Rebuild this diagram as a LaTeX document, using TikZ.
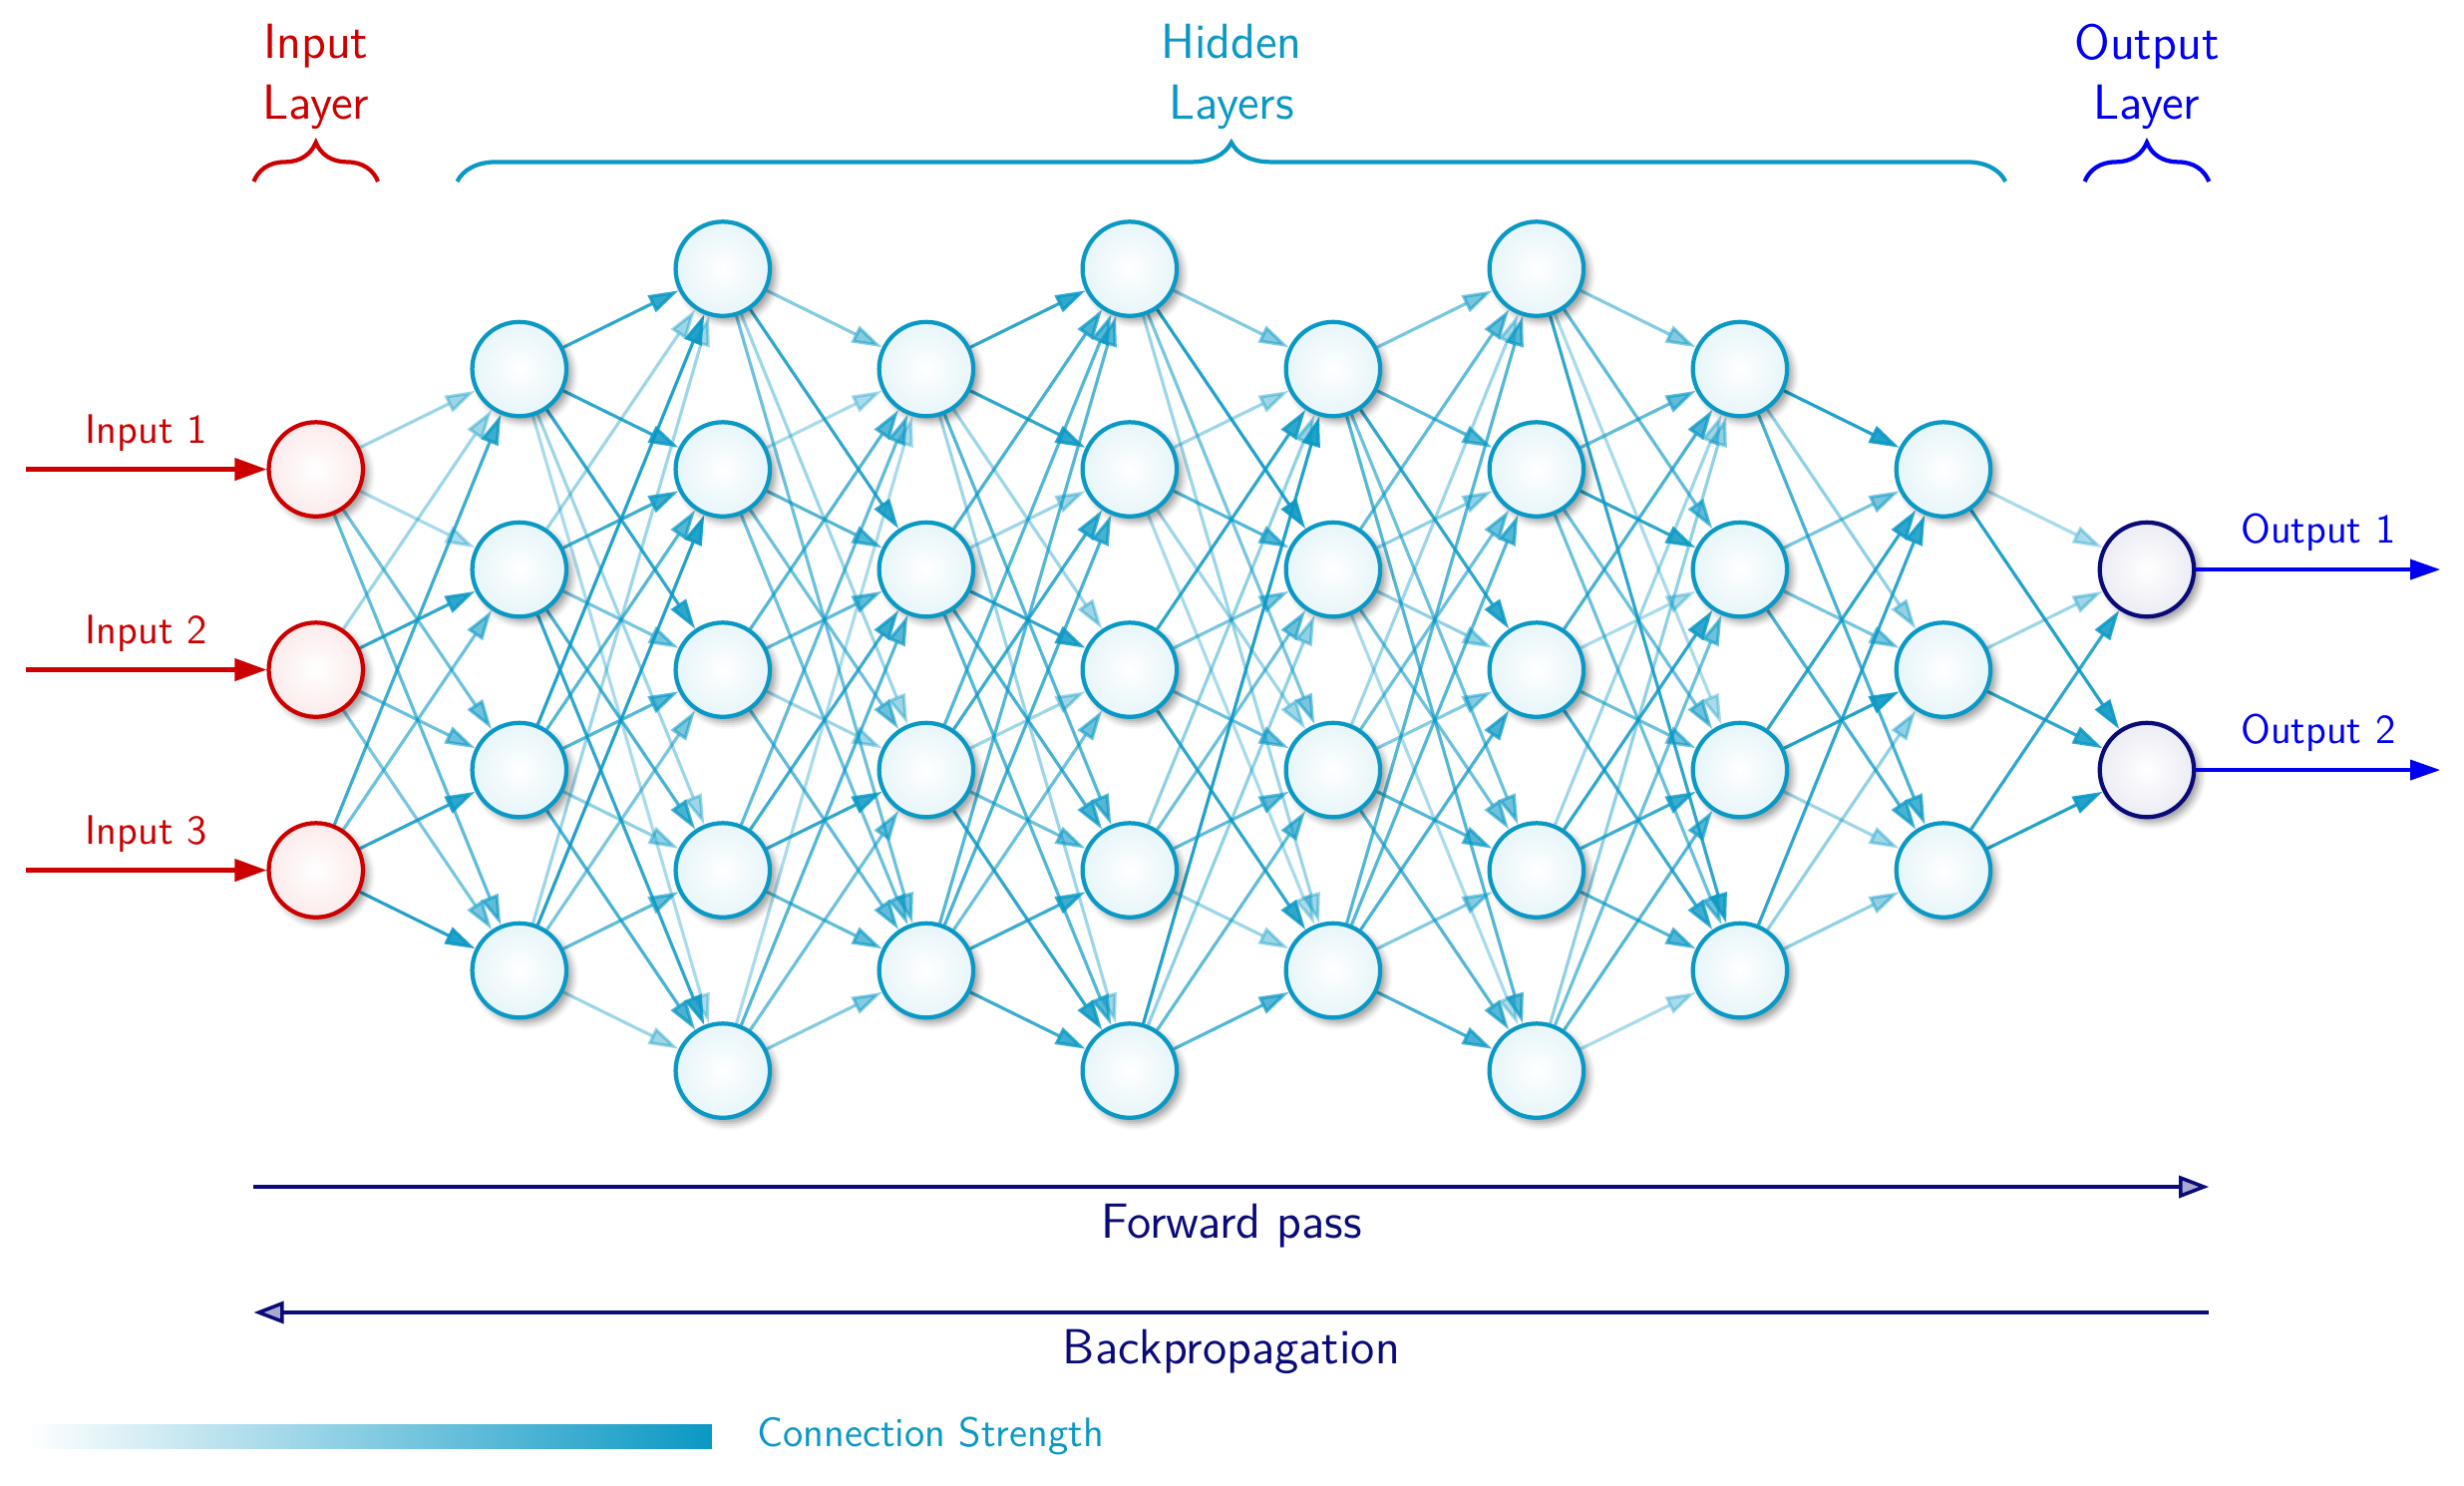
\documentclass[tikz,border=0pt]{standalone}
\usepackage{fontspec}
\usetikzlibrary{arrows.meta,decorations.pathreplacing,shadows,shadows.blur,backgrounds,calc}
\definecolor{hcol}{RGB}{10,152,196}
\definecolor{icol}{RGB}{204,0,0}
\definecolor{ocol}{RGB}{0,0,240}
\definecolor{navycol}{RGB}{10,10,120}
\begin{document}
\begin{tikzpicture}[
  font=\sffamily,
  neuron/.style={circle, minimum size=0.94cm, inner sep=0pt, line width=1.2pt, inner color=white,
    blur shadow={shadow xshift=1.5pt, shadow yshift=-1.5pt, shadow blur radius=2pt, shadow opacity=40}},
  hid/.style={neuron, draw=hcol, outer color=hcol!10},
  inp/.style={neuron, draw=icol, outer color=icol!8},
  outp/.style={neuron, draw=navycol, outer color=navycol!8},
  conn/.style={draw=hcol, line width=0.9pt, opacity=#1, -{Triangle[length=0.3cm,width=0.18cm]}},
  inarrow/.style={draw=icol, line width=1.2pt, -{Triangle[length=0.32cm,width=0.22cm]}},
  outarrow/.style={draw=ocol, line width=1pt, -{Triangle[length=0.3cm,width=0.2cm]}},
  passarrow/.style={draw=navycol, line width=1pt, -{Triangle[open,fill=navycol!35,length=0.3cm,width=0.22cm]}},
  bigtxt/.style={font=\sffamily\fontsize{14}{17.1}\selectfont, align=center},
  smalltxt/.style={font=\sffamily\fontsize{11.7}{14}\selectfont},
  lbrace/.style={decorate, decoration={brace, amplitude=0.39cm}, line width=1.2pt},
]
\def\xa{3.152}
\def\dx{2.03}
\def\ya{2.682}
\useasboundingbox (0,0) rectangle (24.587,-14.816);

% nodes
\foreach \r [count=\i] in {2,4,6} \node[inp] (L-0-\i) at ({\xa},{-\ya-\r}) {};
\foreach \k in {1,3,5,7} {
  \foreach \r [count=\i] in {1,3,5,7} \node[hid] (L-\k-\i) at ({\xa+\k*\dx},{-\ya-\r}) {};
}
\foreach \k in {2,4,6} {
  \foreach \r [count=\i] in {0,2,4,6,8} \node[hid] (L-\k-\i) at ({\xa+\k*\dx},{-\ya-\r}) {};
}
\foreach \r [count=\i] in {2,4,6} \node[hid] (L-8-\i) at ({\xa+8*\dx},{-\ya-\r}) {};
\foreach \r [count=\i] in {3,5} \node[outp] (L-9-\i) at ({\xa+9*\dx},{-\ya-\r}) {};

% connections
\begin{pgfonlayer}{background}
\foreach \s/\t/\o in {
 0-1/1-1/.4, 0-1/1-2/.35, 0-1/1-3/.6, 0-1/1-4/.65,
 0-2/1-1/.4, 0-2/1-2/.85, 0-2/1-3/.6, 0-2/1-4/.55,
 0-3/1-1/.8, 0-3/1-2/.6, 0-3/1-3/.85, 0-3/1-4/.9,
 1-1/2-1/.85, 1-1/2-2/.85, 1-1/2-3/.85, 1-1/2-4/.4, 1-1/2-5/.35,
 1-2/2-1/.4, 1-2/2-2/.8, 1-2/2-3/.55, 1-2/2-4/.75, 1-2/2-5/.85,
 1-3/2-1/.9, 1-3/2-2/.7, 1-3/2-3/.7, 1-3/2-4/.45, 1-3/2-5/.75,
 1-4/2-1/.4, 1-4/2-2/.9, 1-4/2-3/.55, 1-4/2-4/.65, 1-4/2-5/.4,
 2-1/3-1/.5, 2-1/3-2/.85, 2-1/3-3/.4, 2-1/3-4/.6,
 2-2/3-1/.35, 2-2/3-2/.7, 2-2/3-3/.6, 2-2/3-4/.6,
 2-3/3-1/.7, 2-3/3-2/.65, 2-3/3-3/.4, 2-3/3-4/.65,
 2-4/3-1/.65, 2-4/3-2/.8, 2-4/3-3/.85, 2-4/3-4/.65,
 2-5/3-1/.35, 2-5/3-2/.7, 2-5/3-3/.6, 2-5/3-4/.5,
 3-1/4-1/.85, 3-1/4-2/.85, 3-1/4-3/.4, 3-1/4-4/.7, 3-1/4-5/.4,
 3-2/4-1/.75, 3-2/4-2/.4, 3-2/4-3/.85, 3-2/4-4/.75, 3-2/4-5/.7,
 3-3/4-1/.7, 3-3/4-2/.8, 3-3/4-3/.4, 3-3/4-4/.6, 3-3/4-5/.85,
 3-4/4-1/.7, 3-4/4-2/.75, 3-4/4-3/.6, 3-4/4-4/.8, 3-4/4-5/.8,
 4-1/5-1/.5, 4-1/5-2/.9, 4-1/5-3/.55, 4-1/5-4/.4,
 4-2/5-1/.4, 4-2/5-2/.7, 4-2/5-3/.4, 4-2/5-4/.35,
 4-3/5-1/.85, 4-3/5-2/.55, 4-3/5-3/.6, 4-3/5-4/.85,
 4-4/5-1/.45, 4-4/5-2/.6, 4-4/5-3/.65, 4-4/5-4/.4,
 4-5/5-1/.9, 4-5/5-2/.45, 4-5/5-3/.65, 4-5/5-4/.7,
 5-1/6-1/.55, 5-1/6-2/.7, 5-1/6-3/.85, 5-1/6-4/.6, 5-1/6-5/.7,
 5-2/6-1/.65, 5-2/6-2/.45, 5-2/6-3/.45, 5-2/6-4/.6, 5-2/6-5/.35,
 5-3/6-1/.4, 5-3/6-2/.6, 5-3/6-3/.5, 5-3/6-4/.7, 5-3/6-5/.7,
 5-4/6-1/.7, 5-4/6-2/.7, 5-4/6-3/.75, 5-4/6-4/.5, 5-4/6-5/.75,
 6-1/7-1/.5, 6-1/7-2/.65, 6-1/7-3/.35, 6-1/7-4/.85,
 6-2/7-1/.65, 6-2/7-2/.85, 6-2/7-3/.6, 6-2/7-4/.6,
 6-3/7-1/.75, 6-3/7-2/.35, 6-3/7-3/.6, 6-3/7-4/.8,
 6-4/7-1/.4, 6-4/7-2/.85, 6-4/7-3/.8, 6-4/7-4/.7,
 6-5/7-1/.45, 6-5/7-2/.6, 6-5/7-3/.7, 6-5/7-4/.35,
 7-1/8-1/.9, 7-1/8-2/.45, 7-1/8-3/.75,
 7-2/8-1/.55, 7-2/8-2/.55, 7-2/8-3/.75,
 7-3/8-1/.85, 7-3/8-2/.9, 7-3/8-3/.4,
 7-4/8-1/.85, 7-4/8-2/.45, 7-4/8-3/.45,
 8-1/9-1/.35, 8-1/9-2/.9,
 8-2/9-1/.4, 8-2/9-2/.85,
 8-3/9-1/.85, 8-3/9-2/.9}
 \draw[conn=\o] (L-\s) -- (L-\t);
\end{pgfonlayer}

% input arrows
\foreach \i/\r in {1/2,2/4,3/6} {
  \coordinate (in-\i) at (0.259,{-\ya-\r});
  \draw[inarrow] (in-\i) -- (L-0-\i) node[midway, above=1.3pt, smalltxt, text=icol] {Input \i};
}
% output arrows
\foreach \i/\r in {1/3,2/5} {
  \coordinate (out-\i) at (24.35,{-\ya-\r});
  \draw[outarrow] (L-9-\i) -- (out-\i) node[midway, above=1.3pt, smalltxt, text=ocol] {Output \i};
}

% top labels
\node[bigtxt, text=icol] (lab-in) at ({\xa},-0.767) {Input\\Layer};
\node[bigtxt, text=hcol] (lab-hid) at ({\xa+4.5*\dx},-0.767) {Hidden\\Layers};
\node[bigtxt, text=ocol] (lab-out) at ({\xa+9*\dx},-0.767) {Output\\Layer};
\draw[lbrace, icol] ({\xa-0.62},-1.811) -- ({\xa+0.62},-1.811);
\draw[lbrace, hcol] ({\xa+\dx-0.62},-1.811) -- ({\xa+8*\dx+0.62},-1.811);
\draw[lbrace, ocol] ({\xa+9*\dx-0.62},-1.811) -- ({\xa+9*\dx+0.62},-1.811);

% forward / backward
\coordinate (fp-s) at ({\xa-0.62},-11.841);
\coordinate (fp-e) at ({\xa+9*\dx+0.62},-11.841);
\coordinate (bp-s) at ({\xa+9*\dx+0.62},-13.094);
\coordinate (bp-e) at ({\xa-0.62},-13.094);
\draw[passarrow] (fp-s) -- (fp-e) node[midway, below=1.0pt, bigtxt, text=navycol] {Forward pass};
\draw[passarrow] (bp-s) -- (bp-e) node[midway, below=1.0pt, bigtxt, text=navycol] {Backpropagation};

% legend
\shade[left color=white, right color=hcol] (0.269,-14.209) rectangle (7.104,-14.448);
\node[smalltxt, text=hcol, anchor=west, inner sep=0pt] (legend) at (7.552,-14.328) {Connection Strength};
\end{tikzpicture}
\end{document}
